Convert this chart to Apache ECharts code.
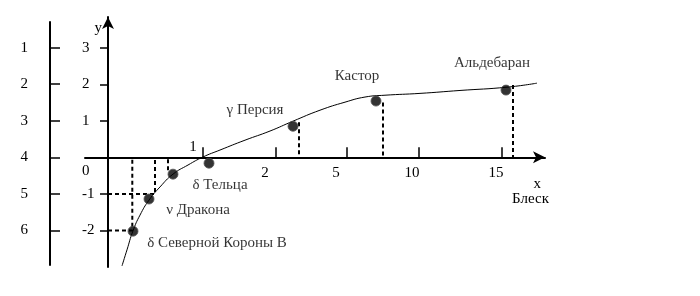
<!DOCTYPE html>
<html><head><meta charset="utf-8">
<script src="https://cdn.jsdelivr.net/npm/echarts@6/dist/echarts.min.js"></script>
<style>html,body{margin:0;padding:0;background:#fff}#c{width:700px;height:296px}</style>
</head><body><div id="c"></div>
<script>
// Curve (schematic x units, y = log-brightness units)
const curveX = [1.4,1.9,2.5,3.2,4.1,5.2,6.5,8.0,9.5,11.2,13.7,16.2,18.5,21.2,23.7,25.7,27.7,31.2,35.2,39.9,42.9];
const curveY = [-2.97,-2.53,-2.01,-1.58,-1.17,-0.81,-0.46,-0.21,0.01,0.20,0.47,0.72,0.99,1.29,1.51,1.65,1.70,1.75,1.83,1.92,2.03];
// Stars
const starNames = ['δ Северной Короны B','ν Дракона','','δ Тельца','γ Персия','Кастор','Альдебаран'];
const starX = [2.5,4.1,6.5,10.1,18.5,26.8,39.8];
const starY = [-2.02,-1.14,-0.46,-0.16,0.85,1.54,1.84];
// Dashed projections
const projX = [2.43,4.7,6.0,19.1,27.5,40.5];
const projY = [-2.0,-1.0,-0.35,0.96,1.5,1.98];
const projToYAxis = [true,true,false,false,false,false];
// Axes
const xTickPos = [9.5,16.8,23.9,31.1,39.4];
const xLabelPos = [8.5,15.7,22.8,30.4,38.8];
const xLabels = ['1','2','5','10','15'];
const yTicks = [-2,-1,1,2,3];
const yLabels = [-2,-1,0,1,2,3];
const magnitudes = [1,2,3,4,5,6];

const FONT = 'Liberation Serif';
const X_MIN = -2.3, X_MAX = 43.7, Y_MIN = -3, Y_MAX = 3.84;
const G = {left:85, top:17, width:460, height:250};
const zeroY = G.top + G.height * Y_MAX / (Y_MAX - Y_MIN);
const zeroX = G.left + G.width * (-X_MIN) / (X_MAX - X_MIN);
const labelOffsets = [[84,12],[49,11],[0,0],[11,22],[-38,-16],[-19,-25],[-14,-27]];

const projSeries = projX.map((x,i) => ({
  type:'line', xAxisIndex:0, yAxisIndex:0, symbol:'none', silent:true, z:3,
  lineStyle:{color:'#000', width:2, type:[4,3]},
  data: projToYAxis[i] ? [[0,projY[i]],[x,projY[i]],[x,0]] : [[x,projY[i]],[x,0]]
}));

const labelMap = {};
xLabelPos.forEach((p,i)=>{ labelMap[p.toFixed(2)] = xLabels[i]; });
const xFmt = v => labelMap[Number(v).toFixed(2)] || '';
const hidden = g => ({gridIndex:g, type:'value', show:false, min:0, max:1});
const txt = {fontFamily:FONT, fontSize:15, color:'#000'};

const option = {
  animation:false,
  backgroundColor:'#fff',
  textStyle:{fontFamily:FONT, color:'#000'},
  grid:[
    {left:G.left, top:G.top, width:G.width, height:G.height},
    {left:50, top:22, width:10, height:243},
    {left:G.left, top:G.top, width:G.width, height:zeroY - G.top},
    {left:G.left, top:zeroY, width:G.width, height:60},
    {left:zeroX, top:G.top, width:100, height:G.height}
  ],
  xAxis:[
    {gridIndex:0, type:'value', min:X_MIN, max:X_MAX, position:'bottom',
     axisLine:{onZero:true, lineStyle:{color:'#000', width:2}, symbol:['none','arrow'], symbolSize:[9,12]},
     axisTick:{show:true, inside:true, length:10, customValues:xTickPos, lineStyle:{color:'#000', width:1.5}},
     axisLabel:{show:false},
     splitLine:{show:false},
     name:'{a|x}\n{b|Блеск}', nameLocation:'end', nameGap:4,
     nameTextStyle:Object.assign({}, txt, {align:'right', verticalAlign:'top', padding:[19,0,0,0],
       rich:{a:Object.assign({}, txt, {padding:[0,8,0,0]}), b:Object.assign({}, txt)}})},
    hidden(1),
    {gridIndex:2, type:'value', min:X_MIN, max:X_MAX, position:'bottom',
     axisLine:{show:false}, axisTick:{show:false}, splitLine:{show:false},
     axisLabel:Object.assign({customValues:xLabelPos.slice(1), margin:8, formatter:xFmt}, txt)},
    {gridIndex:3, type:'value', min:X_MIN, max:X_MAX, position:'top',
     axisLine:{show:false}, axisTick:{show:false}, splitLine:{show:false},
     axisLabel:Object.assign({customValues:[xLabelPos[0]], margin:3, formatter:xFmt}, txt)},
    hidden(4)
  ],
  yAxis:[
    {gridIndex:0, type:'value', min:Y_MIN, max:Y_MAX,
     axisLine:{onZero:true, lineStyle:{color:'#000', width:2}, symbol:['none','arrow'], symbolSize:[9,12]},
     axisTick:{show:true, length:8, customValues:yTicks, lineStyle:{color:'#000', width:1.5}},
     axisLabel:{show:false},
     splitLine:{show:false},
     name:'y', nameLocation:'end', nameGap:-11,
     nameTextStyle:Object.assign({}, txt, {align:'right', verticalAlign:'middle', padding:[0,6,0,0]})},
    {gridIndex:1, type:'value', position:'left', inverse:true, min:0.3, max:6.945,
     axisLine:{onZero:false, lineStyle:{color:'#000', width:2}},
     axisTick:{show:true, inside:true, length:10, customValues:magnitudes, lineStyle:{color:'#000', width:1.5}},
     axisLabel:Object.assign({customValues:magnitudes, margin:22}, txt),
     splitLine:{show:false}},
    hidden(2),
    hidden(3),
    {gridIndex:4, type:'value', min:Y_MIN, max:Y_MAX, position:'left',
     axisLine:{show:false}, axisTick:{show:false}, splitLine:{show:false},
     axisLabel:Object.assign({customValues:yLabels, margin:26, align:'left',
       formatter:v => (Number(v)===0 ? '{z|0}' : String(v)),
       rich:{z:Object.assign({}, txt, {padding:[28,0,0,0]})}}, txt)}
  ],
  series:[
    {type:'line', xAxisIndex:0, yAxisIndex:0, smooth:true, symbol:'none', silent:true, z:2,
     lineStyle:{color:'#000', width:1},
     data: curveX.map((x,i)=>[x,curveY[i]])},
    ...projSeries,
    {type:'scatter', xAxisIndex:0, yAxisIndex:0, symbol:'circle', symbolSize:10, z:5, silent:true,
     itemStyle:{color:'#000', borderColor:'#555', borderWidth:1},
     data: starX.map((x,i)=>({
       value:[x,starY[i]],
       label:Object.assign({show: !!starNames[i], formatter: starNames[i], position:'inside', offset:labelOffsets[i]}, txt)
     }))}
  ]
};
echarts.init(document.getElementById('c'), null, {renderer:'canvas'}).setOption(option);
</script></body></html>
